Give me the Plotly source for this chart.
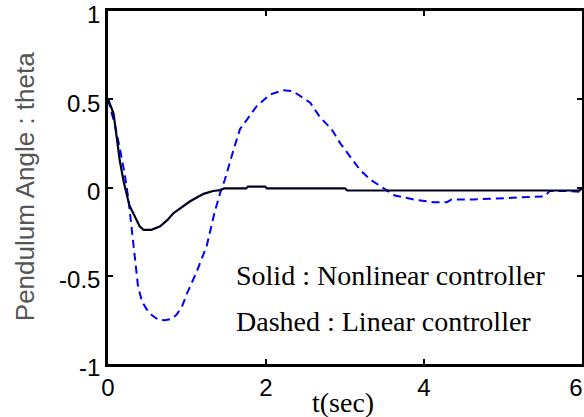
import plotly.graph_objects as go

# Nonlinear controller (solid)
t_nonlinear = [0, 0.07, 0.15, 0.2, 0.27, 0.33, 0.4, 0.45, 0.55, 0.66, 0.75, 0.83, 0.95, 1.04,
               1.13, 1.21, 1.33, 1.42, 1.47, 1.75, 1.77, 1.99, 2.01, 3.0, 3.03, 5.97, 6.0]
theta_nonlinear = [0.5, 0.42, 0.15, 0.03, -0.1, -0.16, -0.22, -0.24, -0.24, -0.22, -0.185, -0.145,
                   -0.105, -0.078, -0.055, -0.036, -0.02, -0.015, -0.005, -0.005, 0.005, 0.005,
                   -0.005, -0.005, -0.017, -0.017, -0.005]

# Linear controller (dashed)
t_linear = [0, 0.09, 0.15, 0.21, 0.26, 0.32, 0.38, 0.43, 0.49, 0.56, 0.64, 0.72, 0.8, 0.87, 0.94,
            1.0, 1.12, 1.25, 1.35, 1.42, 1.48, 1.59, 1.67, 1.76, 1.88, 2.05, 2.22, 2.34, 2.43,
            2.56, 2.68, 2.83, 2.94, 3.06, 3.19, 3.32, 3.48, 3.63, 3.87, 4.12, 4.29, 4.35, 4.62,
            4.96, 5.38, 5.53, 5.59, 5.8, 6.0]
theta_linear = [0.5, 0.35, 0.22, 0.08, -0.07, -0.31, -0.56, -0.645, -0.69, -0.725, -0.75, -0.752,
                -0.745, -0.72, -0.67, -0.6, -0.48, -0.33, -0.14, -0.03, 0.045, 0.215, 0.33,
                0.385, 0.46, 0.527, 0.551, 0.546, 0.517, 0.48, 0.40, 0.33, 0.25, 0.18, 0.10,
                0.045, 0.0, -0.045, -0.068, -0.083, -0.083, -0.068, -0.068, -0.06, -0.05,
                -0.05, -0.02, -0.02, -0.025]

x_ticks = [0, 2, 4, 6]
x_tick_labels = ["0", "2", "4", "6\u2002"]
y_ticks = [-1, -0.5, 0, 0.5, 1]
y_tick_labels = ["-1", "-0.5", "0", "0.5", "1"]

x_title = "t(sec)"
y_title = "Pendulum Angle : theta"
note_solid = "Solid : Nonlinear controller"
note_dashed = "Dashed : Linear controller"

fig = go.Figure()
fig.add_trace(go.Scatter(x=t_linear, y=theta_linear, mode="lines",
                         line=dict(color="#0000ff", width=2, dash="8px,5px"),
                         showlegend=False))
fig.add_trace(go.Scatter(x=t_nonlinear, y=theta_nonlinear, mode="lines",
                         line=dict(color="#000022", width=2.2),
                         showlegend=False))

axis_common = dict(showgrid=False, zeroline=False, showline=True, linecolor="black",
                   linewidth=2.5, mirror="ticks", ticks="inside", ticklen=5, tickwidth=1.5,
                   tickcolor="black", automargin=False, ticklabeloverflow="allow",
                   tickfont=dict(family="Liberation Sans, Arial", size=24, color="black"))

fig.update_xaxes(range=[0, 6], tickvals=x_ticks, ticktext=x_tick_labels, **axis_common)
fig.update_yaxes(range=[-1, 1], tickvals=y_ticks, ticktext=y_tick_labels,
                 ticklabelshift=4, **axis_common)

serif = dict(family="Liberation Serif, Times New Roman", size=28, color="black")
fig.add_annotation(x=0.496, y=-0.108, xref="paper", yref="paper", text=x_title,
                   showarrow=False, font=serif, xanchor="center", yanchor="middle")
fig.add_annotation(x=-0.175, y=0.501, xref="paper", yref="paper", text=y_title,
                   showarrow=False, textangle=-90, xanchor="center", yanchor="middle",
                   font=dict(family="Liberation Sans, Arial", size=26, color="#555555"))
fig.add_annotation(x=1.59, y=-0.5, xref="x", yref="y", text=note_solid, showarrow=False,
                   font=serif, xanchor="left", yanchor="middle")
fig.add_annotation(x=1.59, y=-0.76, xref="x", yref="y", text=note_dashed, showarrow=False,
                   font=serif, xanchor="left", yanchor="middle")

fig.update_layout(width=584, height=417, margin=dict(l=108, r=2, t=11, b=53),
                  paper_bgcolor="white", plot_bgcolor="white")

fig.write_html("out.html", config={"displayModeBar": False},
               post_script="document.body.style.margin='0px';document.body.style.overflow='hidden';")
